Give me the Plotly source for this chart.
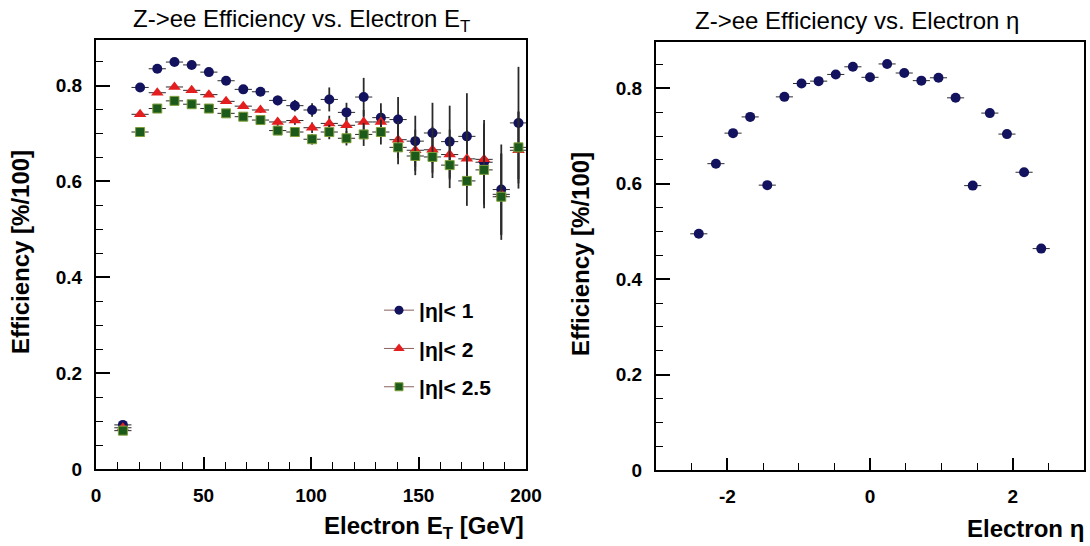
import plotly.graph_objects as go

# ---- Efficiency vs. electron E_T (bin centres in GeV, 8 GeV bins) ----
et_centers = [12.5, 20.5, 28.5, 36.5, 44.5, 52.5, 60.5, 68.5, 76.5, 84.5, 92.5, 100.5,
              108.5, 116.5, 124.5, 132.5, 140.5, 148.5, 156.5, 164.5, 172.5, 180.5, 188.5, 196.5]
et_halfwidth = [4.0] * len(et_centers)

eff_eta1 = [0.092, 0.796, 0.835, 0.849, 0.843, 0.828, 0.810, 0.792, 0.787, 0.769, 0.758, 0.749,
            0.771, 0.744, 0.776, 0.733, 0.729, 0.684, 0.701, 0.683, 0.694, 0.640, 0.583, 0.722]
err_eta1 = [0.005, 0.004, 0.004, 0.004, 0.004, 0.005, 0.005, 0.006, 0.008, 0.010, 0.012, 0.014,
            0.025, 0.020, 0.040, 0.030, 0.047, 0.053, 0.063, 0.075, 0.090, 0.088, 0.094, 0.117]

eff_eta2 = [0.086, 0.740, 0.785, 0.797, 0.790, 0.781, 0.767, 0.757, 0.749, 0.724, 0.727, 0.712,
            0.721, 0.717, 0.724, 0.724, 0.687, 0.665, 0.666, 0.656, 0.647, 0.646, 0.573, 0.665]
err_eta2 = [0.004, 0.003, 0.003, 0.003, 0.003, 0.004, 0.004, 0.005, 0.006, 0.008, 0.009, 0.011,
            0.016, 0.016, 0.025, 0.025, 0.038, 0.043, 0.048, 0.052, 0.060, 0.075, 0.085, 0.080]

eff_eta25 = [0.080, 0.703, 0.752, 0.768, 0.761, 0.752, 0.742, 0.735, 0.728, 0.706, 0.703, 0.688,
             0.703, 0.690, 0.698, 0.703, 0.671, 0.653, 0.651, 0.634, 0.601, 0.624, 0.568, 0.671]
err_eta25 = [0.004, 0.003, 0.003, 0.003, 0.003, 0.004, 0.004, 0.005, 0.006, 0.008, 0.009, 0.011,
             0.015, 0.015, 0.024, 0.026, 0.035, 0.040, 0.044, 0.048, 0.052, 0.080, 0.090, 0.075]

# ---- Efficiency vs. electron eta (0.24-wide bins) ----
eta_centers = [-2.40, -2.16, -1.92, -1.68, -1.44, -1.20, -0.96, -0.72, -0.48, -0.24, 0.00,
               0.24, 0.48, 0.72, 0.96, 1.20, 1.44, 1.68, 1.92, 2.16, 2.40]
eta_halfwidth = [0.12] * len(eta_centers)
eff_eta = [0.495, 0.642, 0.706, 0.740, 0.597, 0.782, 0.810, 0.815, 0.829, 0.845, 0.823,
           0.851, 0.832, 0.816, 0.822, 0.780, 0.596, 0.748, 0.704, 0.624, 0.464]

legend_names = ["|\u03b7|< 1", "|\u03b7|< 2", "|\u03b7|< 2.5"]
eta_ticks = [-2, 0, 2]
eta_ticktext = ["-2", "0", "2"]

NAVY = "#12125e"
RED = "#e41e1e"
GREEN = "#1c5a1c"
ERR = "#2a2a2a"
FONT = "Liberation Sans"

W, H = 1090, 546


def px_x(p):
    return p / W


def px_y(p):
    return 1 - p / H


fig = go.Figure()

series = [
    (eff_eta1, err_eta1, NAVY, "circle", 10, dict(width=0)),
    (eff_eta2, err_eta2, RED, "triangle-up", 11, dict(width=0)),
    (eff_eta25, err_eta25, GREEN, "square", 9, dict(width=1, color="#7f9f3a")),
]

for (vals, errs, col, sym, size, mline), name in zip(series, legend_names):
    fig.add_trace(go.Scatter(
        x=et_centers, y=vals, mode="markers", xaxis="x", yaxis="y",
        marker=dict(color=col, symbol=sym, size=size, line=mline),
        error_x=dict(type="data", array=et_halfwidth, color=ERR, thickness=1, width=0),
        error_y=dict(type="data", array=errs, color=ERR, thickness=1.8, width=0),
        showlegend=False, name=name,
    ))
    # legend entry: short line with the marker on it
    fig.add_trace(go.Scatter(
        x=[None], y=[None], mode="lines+markers", xaxis="x", yaxis="y",
        line=dict(color="#8a6060", width=1),
        marker=dict(color=col, symbol=sym, size=size - 1, line=mline),
        name=name, showlegend=True, legendgroup=name,
    ))

fig.add_trace(go.Scatter(
    x=eta_centers, y=eff_eta, mode="markers", xaxis="x2", yaxis="y2",
    marker=dict(color=NAVY, symbol="circle", size=10),
    error_x=dict(type="data", array=eta_halfwidth, color=ERR, thickness=1, width=0),
    showlegend=False,
))

tickfont = dict(family=FONT, size=19, color="black", weight="bold")
frame = dict(showline=True, linecolor="black", linewidth=2, mirror=True, automargin=False,
             showgrid=False, zeroline=False, ticks="inside", tickcolor="black",
             tickwidth=1.5, tickfont=tickfont, ticklabelstandoff=8)

fig.update_layout(
    width=W, height=H,
    margin=dict(l=0, r=0, t=0, b=0, autoexpand=False),
    paper_bgcolor="white", plot_bgcolor="white",
    xaxis=dict(domain=[px_x(96), px_x(526)], range=[0, 200], dtick=50, ticklen=12,
               minor=dict(dtick=10, ticklen=7, ticks="inside", tickcolor="black", tickwidth=1.2),
               anchor="y", **frame),
    yaxis=dict(domain=[px_y(469), px_y(40)], range=[0, 0.895], dtick=0.2, ticklen=14,
               minor=dict(dtick=0.05, ticklen=7, ticks="inside", tickcolor="black", tickwidth=1.2),
               anchor="x", **frame),
    xaxis2=dict(domain=[px_x(656), px_x(1084)], range=[-3, 3], tickvals=eta_ticks,
                ticktext=eta_ticktext, ticklen=12,
                minor=dict(dtick=0.5, tick0=0, ticklen=7, ticks="inside", tickcolor="black", tickwidth=1.2),
                anchor="y2", **frame),
    yaxis2=dict(domain=[px_y(470), px_y(42)], range=[0, 0.897], dtick=0.2, ticklen=14,
                minor=dict(dtick=0.05, ticklen=7, ticks="inside", tickcolor="black", tickwidth=1.2),
                anchor="x2", **frame),
    legend=dict(x=px_x(379), y=px_y(290), xanchor="left", yanchor="top",
                bgcolor="rgba(0,0,0,0)", font=dict(family=FONT, size=21, color="black", weight="bold"),
                tracegroupgap=8, itemwidth=30),
    showlegend=True,
)

annots = [
    dict(text="Z->ee Efficiency vs. Electron E<sub>T</sub>", x=px_x(301), y=px_y(21),
         font=dict(family=FONT, size=24, color="black")),
    dict(text="Z->ee Efficiency vs. Electron \u03b7", x=px_x(857), y=px_y(21),
         font=dict(family=FONT, size=24, color="black")),
    dict(text="Electron E<sub>T</sub> [GeV]", x=px_x(526), y=px_y(527), xanchor="right",
         font=dict(family=FONT, size=24, color="black", weight="bold")),
    dict(text="Electron \u03b7", x=px_x(1086), y=px_y(528), xanchor="right",
         font=dict(family=FONT, size=24, color="black", weight="bold")),
    dict(text="Efficiency [%/100]", x=px_x(20), y=px_y(252), textangle=-90,
         font=dict(family=FONT, size=24, color="black", weight="bold")),
    dict(text="Efficiency [%/100]", x=px_x(580), y=px_y(254), textangle=-90,
         font=dict(family=FONT, size=24, color="black", weight="bold")),
]
for a in annots:
    a.setdefault("xanchor", "center")
    fig.add_annotation(xref="paper", yref="paper", showarrow=False, yanchor="middle", **a)

fig.write_html("out.html")
